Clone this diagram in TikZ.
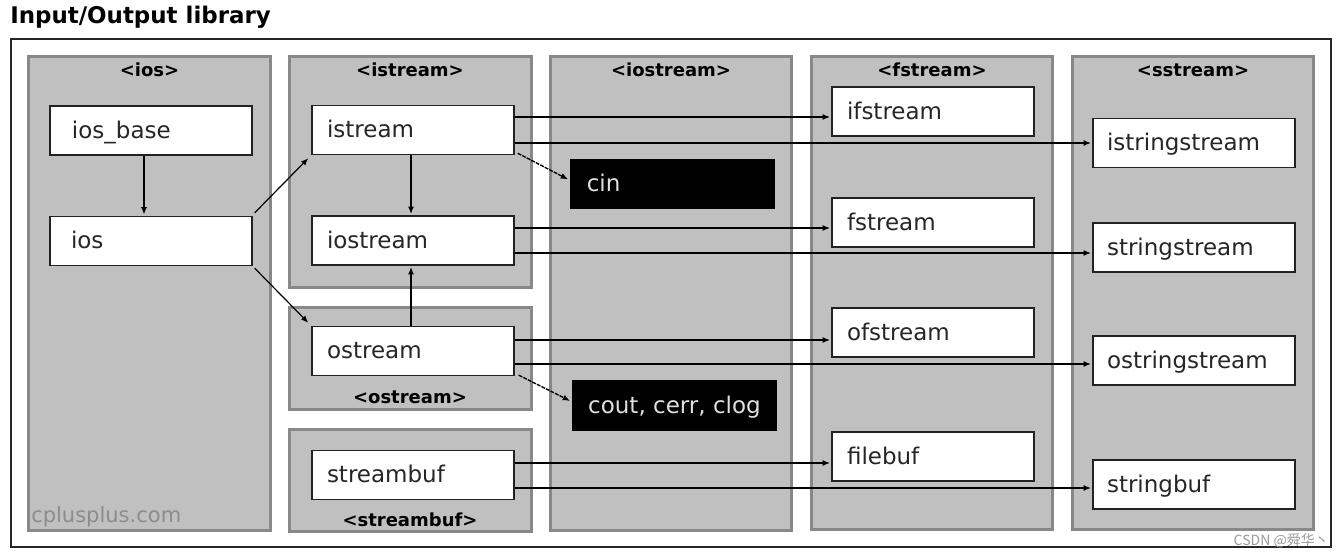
\documentclass[tikz,border=0pt]{standalone}
\usepackage{fontspec}
\setmainfont{DejaVu Sans}
\newfontfamily\cjkfont{Noto Sans CJK SC}
\usetikzlibrary{arrows.meta,calc}
\definecolor{panelfill}{HTML}{C0C0C0}
\definecolor{panelline}{HTML}{888888}
\definecolor{boxline}{HTML}{222222}
\definecolor{wmgray}{HTML}{8C8C8C}
\newcommand\bxt[2]{\makebox[151.5pt][l]{\hspace*{#1}#2}}
\begin{document}
\begin{tikzpicture}[x=0.75pt,y=-0.75pt,
  panel/.style={draw=panelline,line width=2.25pt,fill=panelfill},
  hdr/.style={anchor=base,font=\fontsize{13.5pt}{15pt}\selectfont\bfseries,inner sep=0pt},
  box/.style={draw=boxline,line width=1.1pt,fill=white,text=black!85,
    minimum width=151.5pt,minimum height=36.75pt,inner xsep=0pt,inner ysep=0pt,
    text height=12pt,text depth=0.75pt,
    font=\fontsize{17.25pt}{20pt}\selectfont},
  objbox/.style={box,draw=black,fill=black,text=white!88!black,minimum width=152.25pt},
  arr/.style={-{Latex[length=5.5pt,width=4.5pt]},line width=0.9pt,black,shorten >=1pt},
  darr/.style={arr,line width=1pt,dash pattern=on 3pt off 0.8pt}]
\useasboundingbox (0,0) rectangle (1341,557);
\fill[white] (0,0) rectangle (1341,557);
% title
\node[anchor=base west,inner sep=0pt,font=\fontsize{17.2pt}{19pt}\selectfont\bfseries] (title) at (10,23) {Input/Output library};
% outer frame
\draw[line width=1.5pt,black!85] (11,39) rectangle (1331,547);
% panels
\draw[panel] (28.5,56.5) rectangle (270.5,530);
\draw[panel] (289.5,56.5) rectangle (531,287.5);
\draw[panel] (289.5,307.5) rectangle (531,409.5);
\draw[panel] (289.5,429.5) rectangle (531,531);
\draw[panel] (550.5,56.5) rectangle (791.5,530);
\draw[panel] (811.5,56.5) rectangle (1052.5,529);
\draw[panel] (1072.5,56.5) rectangle (1313.5,529);
% headers
\node[hdr] (hios) at (149.5,76) {<ios>};
\node[hdr] (histream) at (410,76) {<istream>};
\node[hdr] (hiostream) at (671,76) {<iostream>};
\node[hdr] (hfstream) at (932,76) {<fstream>};
\node[hdr] (hsstream) at (1193,76) {<sstream>};
\node[hdr] (hostream) at (410,403) {<ostream>};
\node[hdr] (hstreambuf) at (410,526) {<streambuf>};
% watermarks
\node[anchor=base west,inner sep=0pt,text=wmgray,font=\fontsize{15.75pt}{17pt}\selectfont] (cpp) at (31,522) {cplusplus.com};
\node[anchor=base east,inner sep=0pt,text=black!40,font=\cjkfont\fontsize{10.5pt}{12pt}\selectfont] (csdn) at (1329,545) {CSDN @舜华丶};
% boxes
\node[box] (iosbase) at (151,130.5) {\bxt{16.5pt}{ios\_base}};
\node[box] (ios) at (151,241) {\bxt{15.75pt}{ios}};
\node[box] (istream) at (413,130) {\bxt{11.25pt}{istream}};
\node[box] (iostream) at (413,240.5) {\bxt{11.25pt}{iostream}};
\node[box] (ostream) at (413,351) {\bxt{11.25pt}{ostream}};
\node[box] (streambuf) at (413,475) {\bxt{11.25pt}{streambuf}};
\node[objbox] (cin) at (672.5,184) {\bxt{11.5pt}{cin}};
\node[objbox] (cout) at (674.5,405.5) {\bxt{11pt}{cout, cerr, clog}};
\node[box] (ifstream) at (933,111.5) {\bxt{11.25pt}{ifstream}};
\node[box] (fstream) at (933,222.5) {\bxt{11.25pt}{fstream}};
\node[box] (ofstream) at (933,332.5) {\bxt{11.25pt}{ofstream}};
\node[box] (filebuf) at (933,456.5) {\bxt{11.25pt}{filebuf}};
\node[box] (istringstream) at (1194,143) {\bxt{10.5pt}{istringstream}};
\node[box] (stringstream) at (1194,247.5) {\bxt{10.5pt}{stringstream}};
\node[box] (ostringstream) at (1194,360.5) {\bxt{10.5pt}{ostringstream}};
\node[box] (stringbuf) at (1194,484.5) {\bxt{10.5pt}{stringbuf}};
% connectors
\draw[arr] ($(iosbase.south)+(-7,0)$) -- ($(ios.north)+(-7,0)$);
\draw[arr] ($(ios.north east)+(2,-3)$) -- ($(istream.south west)+(-2,2)$);
\draw[arr] ($(ios.south east)+(2,2)$) -- ($(ostream.north west)+(-2,-2)$);
\draw[arr] ($(istream.south)+(-2,0)$) -- ($(iostream.north)+(-2,0)$);
\draw[arr] ($(ostream.north)+(-2,0)$) -- ($(iostream.south)+(-2,0)$);
\draw[arr] (istream.east |- 0,117) -- (ifstream.west |- 0,117);
\draw[arr] (istream.east |- 0,143) -- (istringstream.west |- 0,143);
\draw[arr] (iostream.east |- 0,228) -- (fstream.west |- 0,228);
\draw[arr] (iostream.east |- 0,253) -- (stringstream.west |- 0,253);
\draw[arr] (ostream.east |- 0,340) -- (ofstream.west |- 0,340);
\draw[arr] (ostream.east |- 0,364) -- (ostringstream.west |- 0,364);
\draw[arr] (streambuf.east |- 0,463) -- (filebuf.west |- 0,463);
\draw[arr] (streambuf.east |- 0,488) -- (stringbuf.west |- 0,488);
\draw[darr] ($(istream.south east)+(3,-2)$) -- ($(cin.west)+(-1,-4)$);
\draw[darr] ($(ostream.south east)+(4,-1)$) -- ($(cout.west)+(-1,-4)$);
\end{tikzpicture}
\end{document}
